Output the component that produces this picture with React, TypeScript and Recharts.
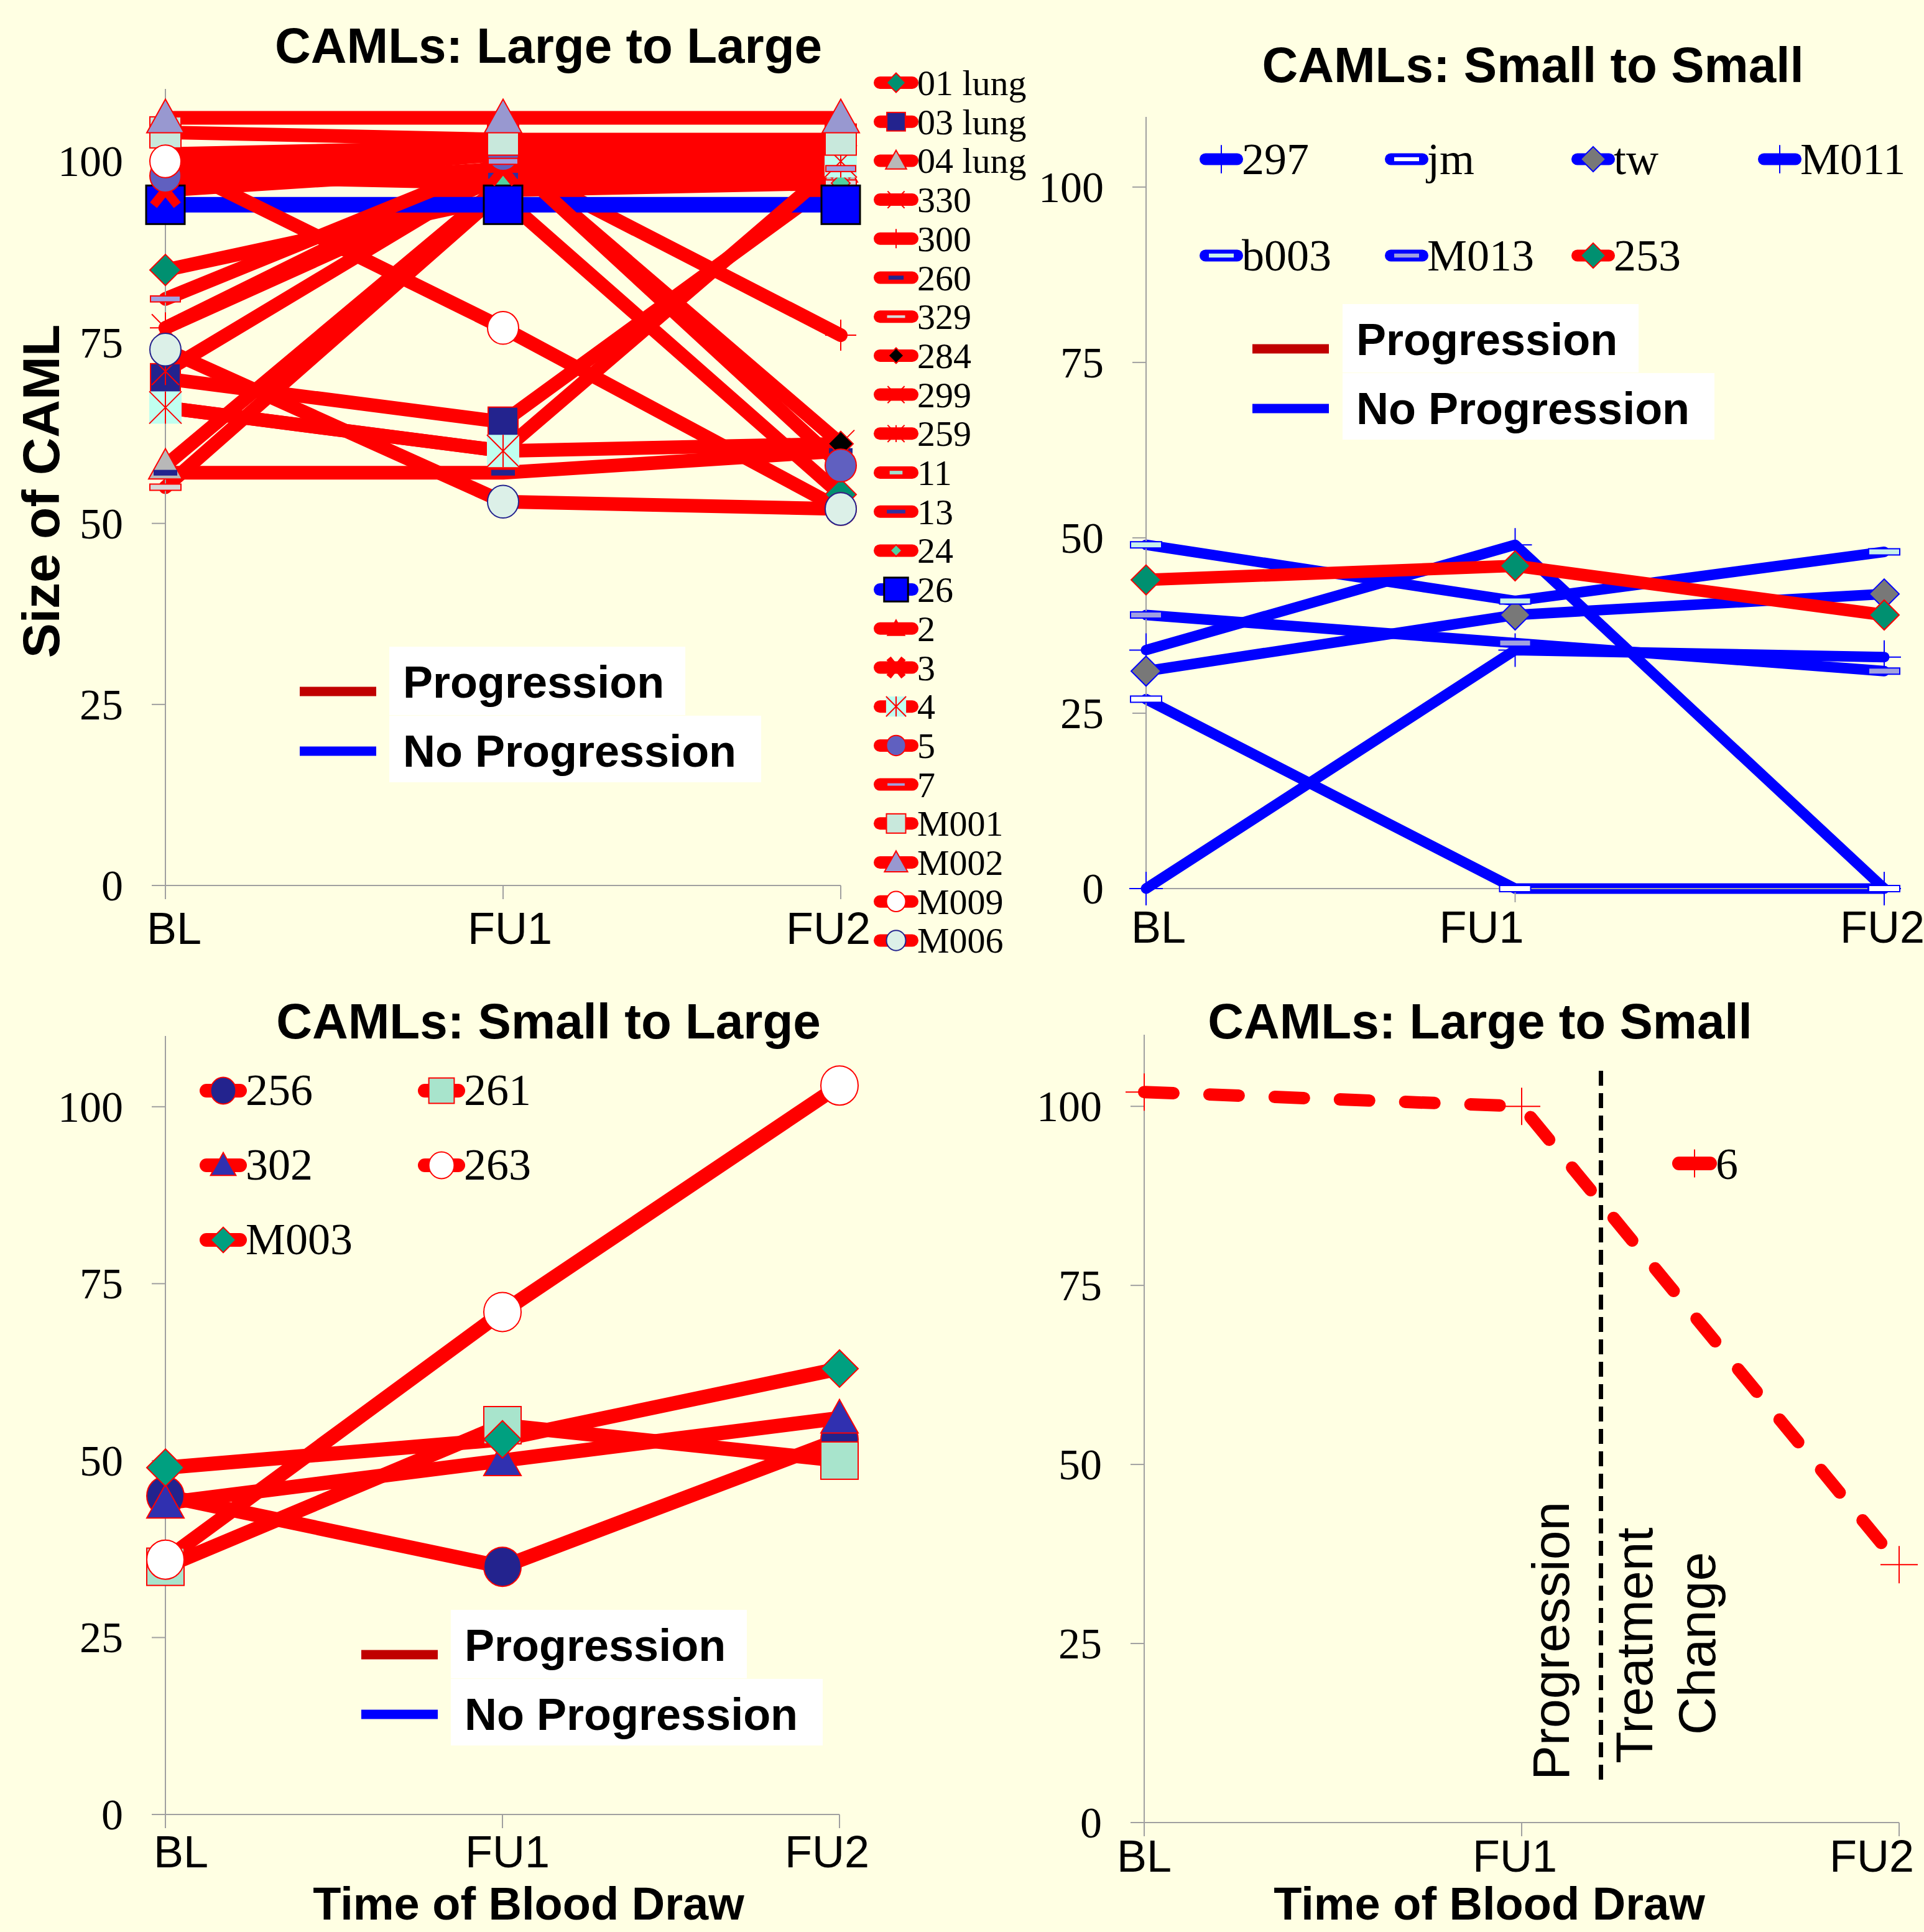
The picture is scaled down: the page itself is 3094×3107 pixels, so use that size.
import React from 'react';
import { LineChart, Line, XAxis, YAxis, ReferenceLine } from 'recharts';

const BG = '#ffffe3';
const AXIS = '#a0a0a0';
const RED = '#ff0000';
const BLUE = '#0000ff';
const SANS = '"Liberation Sans", Arial, sans-serif';
const SERIF = '"Liberation Serif", "Times New Roman", serif';

const VISITS = ['BL', 'FU1', 'FU2'];
const Y_TICKS = [0, 25, 50, 75, 100];

// CAMLs: Large to Large
const LL_NAMES = ['01 lung', '03 lung', '04 lung', '330', '300', '260', '329', '284', '299', '259', '11', '13', '24', '26', '2', '3', '4', '5', '7', 'M001', 'M002', 'M009', 'M006'];
const LL_BL = [85, 70, 58, 66, 77, 57, 55, 97, 77, 71, 100, 98, 98, 94, 101, 96, 66, 98, 81, 104, 106, 100, 74];
const LL_FU1 = [95, 64, 97, 60, 100, 57, 96, 101, 98, 99, 101, 98, 97, 94, 102, 99, 60, 101, 100, 103, 106, 77, 53];
const LL_FU2 = [54, 98, 99, 61, 76, 60, 97, 61, 100, 101, 102, 99, 97, 94, 102, 100, 100, 58, 99, 103, 106, 52, 52];

// CAMLs: Small to Small
const SS_NAMES = ['297', 'jm', 'tw', 'M011', 'b003', 'M013', '253'];
const SS_BL = [34, 27, 31, 0, 49, 39, 44];
const SS_FU1 = [49, 0, 39, 34, 41, 35, 46];
const SS_FU2 = [0, 0, 42, 33, 48, 31, 39];

// CAMLs: Small to Large
const SL_NAMES = ['256', '261', '302', '263', 'M003'];
const SL_BL = [45, 35, 44, 36, 49];
const SL_FU1 = [35, 55, 50, 71, 53];
const SL_FU2 = [53, 50, 56, 103, 63];

// CAMLs: Large to Small
const LS_NAMES = ['6'];
const LS_BL = [102];
const LS_FU1 = [100];
const LS_FU2 = [36];
const LS_CHANGE_AT = 1.21; // treatment change, between FU1 and FU2
const LS_CHANGE_SPAN = [6, 105];

type Mk = { shape: string; fill?: string; stroke?: string; size: number; sw?: number };
type Sty = { color: string; mk: Mk };

const LL_STYLE: Record<string, Sty> = {
  '01 lung': { color: RED, mk: { shape: 'diamond', fill: '#009070', stroke: RED, size: 50 } },
  '03 lung': { color: RED, mk: { shape: 'square', fill: '#23238e', stroke: RED, size: 48 } },
  '04 lung': { color: RED, mk: { shape: 'triangle', fill: '#b8b8b8', stroke: RED, size: 54 } },
  '330': { color: RED, mk: { shape: 'x', stroke: RED, size: 44 } },
  '300': { color: RED, mk: { shape: 'plus', stroke: RED, size: 50 } },
  '260': { color: RED, mk: { shape: 'dash', fill: '#23238e', stroke: '#23238e', size: 36 } },
  '329': { color: RED, mk: { shape: 'dash', fill: '#d8d8d8', stroke: RED, size: 50 } },
  '284': { color: RED, mk: { shape: 'diamond', fill: '#000000', stroke: RED, size: 40 } },
  '299': { color: RED, mk: { shape: 'x', stroke: RED, size: 44 } },
  '259': { color: RED, mk: { shape: 'star', stroke: RED, size: 44 } },
  '11': { color: RED, mk: { shape: 'dash', fill: '#a0e0d0', stroke: '#a0e0d0', size: 30 } },
  '13': { color: RED, mk: { shape: 'dash', fill: '#3030a0', stroke: '#3030a0', size: 48, sw: 0 } },
  '24': { color: RED, mk: { shape: 'diamond', fill: '#50d0a0', stroke: RED, size: 30 } },
  '26': { color: BLUE, mk: { shape: 'square', fill: BLUE, stroke: '#000000', size: 62, sw: 3 } },
  '2': { color: RED, mk: { shape: 'triangle', fill: RED, stroke: RED, size: 44 } },
  '3': { color: RED, mk: { shape: 'bigX', stroke: RED, size: 48 } },
  '4': { color: RED, mk: { shape: 'boxX', fill: '#c0fff0', stroke: RED, size: 52 } },
  '5': { color: RED, mk: { shape: 'circle', fill: '#6060c0', stroke: RED, size: 50 } },
  '7': { color: RED, mk: { shape: 'dash', fill: '#a0a0e0', stroke: RED, size: 48 } },
  M001: { color: RED, mk: { shape: 'square', fill: '#c8e8dc', stroke: RED, size: 50 } },
  M002: { color: RED, mk: { shape: 'triangle', fill: '#9898d0', stroke: RED, size: 60 } },
  M009: { color: RED, mk: { shape: 'circle', fill: '#ffffff', stroke: RED, size: 50 } },
  M006: { color: RED, mk: { shape: 'circle', fill: '#dcf0e8', stroke: '#23238e', size: 50 } },
};

const SS_STYLE: Record<string, Sty> = {
  '297': { color: BLUE, mk: { shape: 'plus', stroke: BLUE, size: 54 } },
  jm: { color: BLUE, mk: { shape: 'dash', fill: '#ffffff', stroke: BLUE, size: 50 } },
  tw: { color: BLUE, mk: { shape: 'diamond', fill: '#787878', stroke: BLUE, size: 48 } },
  M011: { color: BLUE, mk: { shape: 'plus', stroke: BLUE, size: 54 } },
  b003: { color: BLUE, mk: { shape: 'dash', fill: '#c8f0ec', stroke: BLUE, size: 50 } },
  M013: { color: BLUE, mk: { shape: 'dash', fill: '#a0a0e0', stroke: BLUE, size: 50 } },
  '253': { color: RED, mk: { shape: 'diamond', fill: '#009070', stroke: RED, size: 48 } },
};

const SL_STYLE: Record<string, Sty> = {
  '256': { color: RED, mk: { shape: 'circle', fill: '#23238e', stroke: RED, size: 60 } },
  '261': { color: RED, mk: { shape: 'square', fill: '#a8e4cc', stroke: RED, size: 60 } },
  '302': { color: RED, mk: { shape: 'triangle', fill: '#3030b0', stroke: RED, size: 60 } },
  '263': { color: RED, mk: { shape: 'circle', fill: '#ffffff', stroke: RED, size: 60 } },
  M003: { color: RED, mk: { shape: 'diamond', fill: '#00a080', stroke: RED, size: 60 } },
};

const LS_STYLE: Record<string, Sty> = {
  '6': { color: RED, mk: { shape: 'plus', stroke: RED, size: 60 } },
};

const toRows = (bl: number[], fu1: number[], fu2: number[]) =>
  [bl, fu1, fu2].map((vals, t) => {
    const row: Record<string, number> = { t };
    vals.forEach((v, i) => {
      row[`s${i}`] = v;
    });
    return row;
  });

function mk(m: Mk, cx: number, cy: number, k = 1, key?: string) {
  const s = m.size * k;
  const h = s / 2;
  const sw = m.sw ?? 2;
  const fill = m.fill ?? 'none';
  const stroke = m.stroke ?? 'none';
  let el: React.ReactNode = null;
  switch (m.shape) {
    case 'circle':
      el = <ellipse cx={cx} cy={cy} rx={h} ry={h * 1.05} fill={fill} stroke={stroke} strokeWidth={sw} />;
      break;
    case 'square':
      el = <rect x={cx - h} y={cy - h} width={s} height={s} fill={fill} stroke={stroke} strokeWidth={sw} />;
      break;
    case 'diamond':
      el = <polygon points={`${cx},${cy - h} ${cx + h},${cy} ${cx},${cy + h} ${cx - h},${cy}`} fill={fill} stroke={stroke} strokeWidth={sw} />;
      break;
    case 'triangle':
      el = <polygon points={`${cx},${cy - h} ${cx + h},${cy + h * 0.8} ${cx - h},${cy + h * 0.8}`} fill={fill} stroke={stroke} strokeWidth={sw} />;
      break;
    case 'dash':
      el = <rect x={cx - h} y={cy - s * 0.1} width={s} height={s * 0.2} fill={fill} stroke={stroke} strokeWidth={sw} />;
      break;
    case 'x':
      el = <path d={`M${cx - h},${cy - h}L${cx + h},${cy + h}M${cx + h},${cy - h}L${cx - h},${cy + h}`} stroke={stroke} strokeWidth={sw} fill="none" />;
      break;
    case 'plus':
      el = <path d={`M${cx - h},${cy}L${cx + h},${cy}M${cx},${cy - h}L${cx},${cy + h}`} stroke={stroke} strokeWidth={sw} fill="none" />;
      break;
    case 'star':
      el = <path d={`M${cx - h},${cy - h}L${cx + h},${cy + h}M${cx + h},${cy - h}L${cx - h},${cy + h}M${cx},${cy - h}L${cx},${cy + h}`} stroke={stroke} strokeWidth={sw} fill="none" />;
      break;
    case 'bigX':
      el = <path d={`M${cx - h * 0.8},${cy - h}L${cx + h * 0.8},${cy + h}M${cx + h * 0.8},${cy - h}L${cx - h * 0.8},${cy + h}`} stroke={stroke} strokeWidth={s * 0.3} fill="none" />;
      break;
    case 'boxX':
      el = (
        <g>
          <rect x={cx - h} y={cy - h} width={s} height={s} fill={fill} stroke="none" />
          <path d={`M${cx - h},${cy - h}L${cx + h},${cy + h}M${cx + h},${cy - h}L${cx - h},${cy + h}M${cx},${cy - h}L${cx},${cy + h}`} stroke={stroke} strokeWidth={sw} fill="none" />
        </g>
      );
      break;
  }
  return <g key={key}>{el}</g>;
}

const yTick = (p: any) => (
  <text x={p.x} y={p.y} dy={24} textAnchor="end" fontFamily={SERIF} fontSize={70} fill="#000">
    {p.payload.value}
  </text>
);

const xTick = (dx: number[], base: number) => (p: any) => (
  <text x={p.x + (dx[p.index] ?? 0)} y={p.y + base} textAnchor="middle" fontFamily={SANS} fontSize={72} fill="#000">
    {VISITS[p.payload.value]}
  </text>
);

const ProgLegend = ({ lineX, boxX, boxY }: { lineX: number; boxX: number; boxY: number }) => (
  <g>
    <rect x={boxX} y={boxY} width={476} height={110} fill="#ffffff" />
    <rect x={boxX} y={boxY + 111} width={598} height={107} fill="#ffffff" />
    <line x1={lineX} x2={lineX + 123} y1={boxY + 72} y2={boxY + 72} stroke="#c00000" strokeWidth={15} />
    <line x1={lineX} x2={lineX + 123} y1={boxY + 168} y2={boxY + 168} stroke={BLUE} strokeWidth={15} />
    <text x={boxX + 22} y={boxY + 82} fontFamily={SANS} fontWeight="bold" fontSize={72} fill="#000">Progression</text>
    <text x={boxX + 22} y={boxY + 193} fontFamily={SANS} fontWeight="bold" fontSize={72} fill="#000">No Progression</text>
  </g>
);

const LegendItem = ({ x, y, len, w, sty, k, label, font, gap }: any) => (
  <g>
    <line x1={x + w / 2} x2={x + len - w / 2} y1={y} y2={y} stroke={sty.color} strokeWidth={w} strokeLinecap="round" />
    {mk(sty.mk, x + len / 2, y, k)}
    <text x={x + len - 2} y={y + gap} fontFamily={SERIF} fontSize={font} fill="#000">{label}</text>
  </g>
);

const Title = ({ x, y, text }: { x: number; y: number; text: string }) => (
  <text x={x} y={y} textAnchor="middle" fontFamily={SANS} fontWeight="bold" fontSize={80} fill="#000">{text}</text>
);

const AxisTitle = ({ x, y, text }: { x: number; y: number; text: string }) => (
  <text x={x} y={y} textAnchor="middle" fontFamily={SANS} fontWeight="bold" fontSize={74} fill="#000">{text}</text>
);

function renderLines(names: string[], styles: Record<string, Sty>, width: (n: string) => number, dash?: string) {
  return names.map((n, i) => {
    const st = styles[n];
    return (
      <Line
        key={n}
        dataKey={`s${i}`}
        name={n}
        stroke={st.color}
        strokeWidth={width(n)}
        strokeLinejoin="round"
        strokeLinecap="round"
        strokeDasharray={dash}
        dot={(p: any) => mk(st.mk, p.cx, p.cy, 1, `${n}-${p.index}`)}
        activeDot={false}
        isAnimationActive={false}
      />
    );
  });
}

const axes = (dx: number[], base: number) => [
  <XAxis
    key="x"
    type="number"
    dataKey="t"
    domain={[0, 2]}
    ticks={[0, 1, 2]}
    interval={0}
    height={100}
    tickSize={22}
    tickMargin={0}
    axisLine={{ stroke: AXIS, strokeWidth: 2 }}
    tickLine={{ stroke: AXIS, strokeWidth: 2 }}
    tick={xTick(dx, base)}
  />,
  <YAxis
    key="y"
    width={200}
    domain={[0, 110]}
    ticks={Y_TICKS}
    interval={0}
    tickSize={22}
    tickMargin={46}
    axisLine={{ stroke: AXIS, strokeWidth: 2 }}
    tickLine={{ stroke: AXIS, strokeWidth: 2 }}
    tick={yTick}
  />,
];

const changeLabel = (props: any) => {
  const x = props?.viewBox?.x ?? 1027;
  const t = (dx: number, y: number, s: string) => (
    <text x={x + dx} y={y} transform={`rotate(-90 ${x + dx} ${y})`} fontFamily={SANS} fontSize={84} fill="#000">{s}</text>
  );
  return (
    <g>
      {t(-51, 1310, 'Progression')}
      {t(83, 1283, 'Treatment')}
      {t(184, 1237, 'Change')}
    </g>
  );
};

export default function App() {
  const llRows = toRows(LL_BL, LL_FU1, LL_FU2);
  const ssRows = toRows(SS_BL, SS_FU1, SS_FU2);
  const slRows = toRows(SL_BL, SL_FU1, SL_FU2);
  const lsRows = toRows(LS_BL, LS_FU1, LS_FU2);
  const ssCols = [382, 680, 980, 1280];
  const slCols = [321, 672];

  return (
    <div style={{ position: 'relative', width: 3094, height: 3107, background: BG, overflow: 'hidden' }}>
      <style>{`html,body{margin:0;padding:0;background:${BG};}`}</style>

      {/* top left: Large to Large */}
      <div style={{ position: 'absolute', left: 0, top: 0 }}>
        <LineChart width={1700} height={1553} data={llRows} margin={{ top: 143, right: 348, bottom: 29, left: 66 }}>
          {axes([14, 11, -20], 72)}
          {renderLines(LL_NAMES, LL_STYLE, (n) => (n === '26' ? 25 : 22))}
          <Title x={882} y={101} text="CAMLs: Large to Large" />
          <text x={95} y={790} transform="rotate(-90 95 790)" textAnchor="middle" fontFamily={SANS} fontWeight="bold" fontSize={84} fill="#000">Size of CAML</text>
          <ProgLegend lineX={482} boxX={626} boxY={1040} />
          {LL_NAMES.map((n, i) => (
            <LegendItem key={n} x={1405} y={133 + i * 62.7} len={72} w={20} sty={LL_STYLE[n]} k={0.62} label={n} font={58} gap={20} />
          ))}
        </LineChart>
      </div>

      {/* top right: Small to Small */}
      <div style={{ position: 'absolute', left: 1547, top: 0 }}>
        <LineChart width={1547} height={1553} data={ssRows} margin={{ top: 188, right: 64, bottom: 24, left: 96 }}>
          {axes([20, -54, -3], 65)}
          {renderLines(SS_NAMES, SS_STYLE, (n) => (n === '253' ? 20 : 17))}
          <Title x={918} y={132} text="CAMLs: Small to Small" />
          {SS_NAMES.map((n, i) => (
            <LegendItem key={n} x={ssCols[i % 4]} y={i < 4 ? 256 : 411} len={70} w={19} sty={SS_STYLE[n]} k={0.84} label={n} font={72} gap={24} />
          ))}
          <ProgLegend lineX={467} boxX={612} boxY={489} />
        </LineChart>
      </div>

      {/* bottom left: Small to Large */}
      <div style={{ position: 'absolute', left: 0, top: 1553 }}>
        <LineChart width={1547} height={1554} data={slRows} margin={{ top: 113, right: 197, bottom: 89, left: 66 }}>
          {axes([25, 8, -20], 63)}
          {renderLines(SL_NAMES, SL_STYLE, () => 23)}
          <Title x={882} y={117} text="CAMLs: Small to Large" />
          {SL_NAMES.map((n, i) => (
            <LegendItem key={n} x={slCols[i % 2]} y={201 + Math.floor(i / 2) * 120} len={76} w={22} sty={SL_STYLE[n]} k={0.68} label={n} font={72} gap={23} />
          ))}
          <ProgLegend lineX={581} boxX={725} boxY={1036} />
          <AxisTitle x={850} y={1534} text="Time of Blood Draw" />
        </LineChart>
      </div>

      {/* bottom right: Large to Small */}
      <div style={{ position: 'absolute', left: 1547, top: 1553 }}>
        <LineChart width={1547} height={1554} data={lsRows} margin={{ top: 111, right: 40, bottom: 76, left: 93 }}>
          {axes([0, -11, -44], 57)}
          <ReferenceLine
            segment={[
              { x: LS_CHANGE_AT, y: LS_CHANGE_SPAN[0] },
              { x: LS_CHANGE_AT, y: LS_CHANGE_SPAN[1] },
            ]}
            stroke="#000"
            strokeWidth={7}
            strokeDasharray="24 12"
            label={changeLabel}
          />
          {renderLines(LS_NAMES, LS_STYLE, () => 20, '47 58')}
          <Title x={833} y={117} text="CAMLs: Large to Small" />
          <LegendItem x={1142} y={318} len={72} w={22} sty={{ color: RED, mk: { shape: 'plus', stroke: RED, size: 60 } }} k={0.75} label="6" font={72} gap={25} />
          <AxisTitle x={848} y={1534} text="Time of Blood Draw" />
        </LineChart>
      </div>
    </div>
  );
}
